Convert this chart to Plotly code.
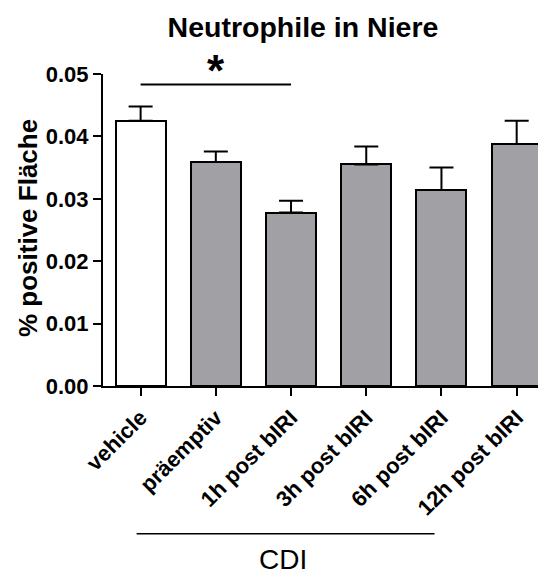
import plotly.graph_objects as go

categories = ["vehicle", "präemptiv", "1h post bIRI", "3h post bIRI", "6h post bIRI", "12h post bIRI"]
means = [0.0425, 0.0359, 0.0278, 0.0355, 0.0314, 0.0388]
sem_upper = [0.0023, 0.0017, 0.0019, 0.0029, 0.0036, 0.0037]
fill_colors = ["#ffffff", "#a1a0a5", "#a1a0a5", "#a1a0a5", "#a1a0a5", "#a1a0a5"]
y_ticks = [0.00, 0.01, 0.02, 0.03, 0.04, 0.05]
title_text = "Neutrophile in Niere"
y_title = "% positive Fläche"
group_label = "CDI"
sig_pair = [0, 2]
sig_level = 0.0483
sig_mark = "*"

FONT = "Liberation Sans, Arial, sans-serif"
OFF = 8  # page body margin compensation
W, H = 546, 579
x_idx = list(range(len(categories)))

fig = go.Figure()
fig.add_trace(go.Bar(
    x=x_idx, y=means, width=0.665,
    marker=dict(color=fill_colors, line=dict(color="black", width=2)),
    error_y=dict(type="data", symmetric=False, array=sem_upper,
                 arrayminus=[0] * len(means), color="black", thickness=2, width=12),
    showlegend=False, cliponaxis=False,
))

# significance bar
fig.add_shape(type="line", xref="x", yref="y", x0=sig_pair[0], x1=sig_pair[1],
              y0=sig_level, y1=sig_level, line=dict(color="black", width=2))
fig.add_annotation(x=(sig_pair[0] + sig_pair[1]) / 2, xref="x", y=1.0, yref="paper",
                   yshift=4, text="<b>" + sig_mark + "</b>", showarrow=False,
                   font=dict(family=FONT, size=44, color="black"), yanchor="middle")

# group bracket
fig.add_shape(type="line", xref="x", yref="paper", x0=-0.053, x1=3.908,
              y0=-0.4736, y1=-0.4736, line=dict(color="black", width=1.5))
fig.add_annotation(x=1.89, xref="x", y=-0.557, yref="paper", text=group_label,
                   showarrow=False, font=dict(family=FONT, size=28, color="black"),
                   xanchor="center", yanchor="middle")

# y axis title
fig.add_annotation(x=-0.171, xref="paper", y=0.5056, yref="paper",
                   text="<b>" + y_title + "</b>", textangle=-90, showarrow=False,
                   font=dict(family=FONT, size=26, color="black"),
                   xanchor="center", yanchor="middle")

fig.update_layout(
    width=W, height=H,
    margin=dict(l=103 - OFF, r=546 - 543.5 + OFF, t=73.5 - OFF, b=H - (386 - OFF)),
    paper_bgcolor="white", plot_bgcolor="white",
    title=dict(text="<b>" + title_text + "</b>", x=(303 - OFF) / W, xref="container", xanchor="center",
               y=1 - (27 - OFF) / H, yref="container", yanchor="middle",
               font=dict(family=FONT, size=28.5, color="black")),
    xaxis=dict(range=[-0.5, 5.35], tickmode="array", tickvals=x_idx, ticktext=categories,
               tickangle=-45, showline=True, linecolor="black", linewidth=2,
               ticks="outside", ticklen=8, tickwidth=2, tickcolor="black",
               showgrid=False, zeroline=False, automargin=False,
               tickfont=dict(family=FONT, size=22, color="black", weight="bold")),
    yaxis=dict(range=[0, 0.05], tickmode="array", tickvals=y_ticks, tickformat=".2f",
               showline=True, linecolor="black", linewidth=2,
               ticks="outside", ticklen=8, tickwidth=2, tickcolor="black",
               showgrid=False, zeroline=False, automargin=False,
               tickfont=dict(family=FONT, size=22, color="black", weight="bold")),
    bargap=0,
)

fig.write_html("out.html")
